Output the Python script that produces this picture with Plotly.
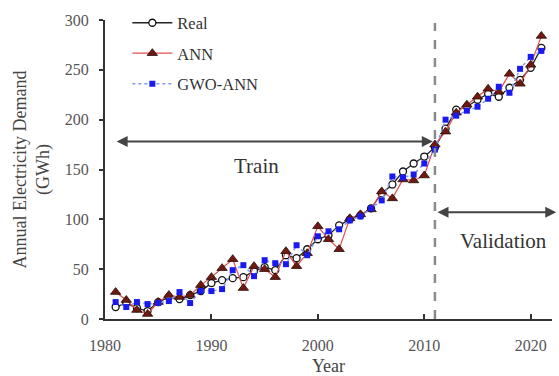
import plotly.graph_objects as go

years = list(range(1981, 2022))
real = [12, 16, 11, 8, 17, 22, 20, 24, 28, 36, 39, 41, 42, 48, 52, 49, 64, 61, 70, 80,
        84, 94, 100, 104, 111, 126, 135, 148, 156, 163,
        172, 191, 210, 213, 220, 226, 223, 232, 240, 252, 272]
ann = [27, 19, 9, 5, 17, 24, 22, 24, 34, 42, 51, 60, 31, 53, 50, 42, 68, 53, 66, 93,
       80, 70, 101, 105, 110, 128, 121, 140, 139, 144,
       175, 188, 207, 215, 223, 231, 228, 246, 236, 255, 284]
gwo = [17, 12, 17, 15, 16, 18, 27, 16, 28, 28, 30, 49, 54, 43, 59, 56, 55, 74, 64, 83,
       88, 90, 99, 103, 111, 119, 143, 142, 145, 156,
       170, 200, 204, 209, 213, 221, 233, 227, 251, 263, 269]

font = "Liberation Serif"
fig = go.Figure()
fig.add_trace(go.Scatter(x=years, y=real, name="Real", mode="lines+markers", legendgroup="a",
                         line=dict(color="#222222", width=1.3),
                         marker=dict(symbol="circle", size=7, color="white",
                                     line=dict(color="#111111", width=1.3))))
fig.add_trace(go.Scatter(x=years, y=ann, name="ANN", mode="lines+markers", legendgroup="b",
                         line=dict(color="#e05050", width=1.2),
                         marker=dict(symbol="triangle-up", size=9, color="#6e1a10",
                                     line=dict(color="#2a0a05", width=0.8))))
fig.add_trace(go.Scatter(x=years, y=gwo, name="GWO-ANN", mode="lines+markers", legendgroup="c",
                         line=dict(color="#7f9bff", width=1.5, dash="dot"),
                         marker=dict(symbol="square", size=6, color="#1a1aee",
                                     line=dict(width=0))))

# split line
fig.add_shape(type="line", x0=2011, x1=2011, y0=0, y1=297, xref="x", yref="y",
              line=dict(color="#8a8a8a", width=2.5, dash="dash"))

# arrows
arrow_col = "#444444"
fig.add_annotation(x=2010.8, y=178, ax=1980.95, ay=178, xref="x", yref="y", axref="x", ayref="y",
                   showarrow=True, arrowhead=2, arrowside="end+start", arrowwidth=2,
                   arrowsize=1.1, arrowcolor=arrow_col, text="")
fig.add_annotation(x=2022.4, y=107, ax=2011.1, ay=107, xref="x", yref="y", axref="x", ayref="y",
                   showarrow=True, arrowhead=2, arrowside="end+start", arrowwidth=2,
                   arrowsize=1.1, arrowcolor=arrow_col, text="")
fig.add_annotation(x=1994.2, y=154, xref="x", yref="y", text="Train", showarrow=False,
                   font=dict(family=font, size=21, color="#333333"))
fig.add_annotation(x=2017.4, y=78, xref="x", yref="y", text="Validation", showarrow=False,
                   font=dict(family=font, size=21, color="#333333"))

fig.update_layout(
    width=559, height=376,
    margin=dict(l=105, r=7, t=19, b=57),
    paper_bgcolor="white", plot_bgcolor="white",
    font=dict(family=font, size=16, color="#444444"),
    showlegend=True,
    legend=dict(x=0.05, y=1.045, xanchor="left", yanchor="top", bgcolor="rgba(0,0,0,0)",
                font=dict(family=font, size=16.5, color="#333333"), tracegroupgap=6,
                itemwidth=40),
    xaxis=dict(range=[1980, 2022], tickvals=[1980, 1990, 2000, 2010, 2020],
               showline=True, linecolor="#333333", linewidth=2, ticks="inside",
               ticklen=5, tickwidth=1.5, tickcolor="#333333", showgrid=False, zeroline=False,
               ticklabelstandoff=11, automargin=False,
               title=dict(text="Year", font=dict(family=font, size=18, color="#444444"), standoff=9),
               tickfont=dict(family=font, size=16, color="#555555")),
    yaxis=dict(range=[0, 300], tickvals=[0, 50, 100, 150, 200, 250, 300],
               showline=True, linecolor="#333333", linewidth=2, ticks="outside",
               ticklen=4, tickwidth=1.5, tickcolor="#333333", showgrid=False, zeroline=False,
               ticklabelstandoff=7, automargin=False,
               title=dict(text="Annual Electricity Demand<br>(GWh)",
                          font=dict(family=font, size=18, color="#444444"), standoff=10),
               tickfont=dict(family=font, size=16, color="#555555")),
)
fig.write_html("out.html", config={"displayModeBar": False},
               post_script="document.body.style.margin='0';")
